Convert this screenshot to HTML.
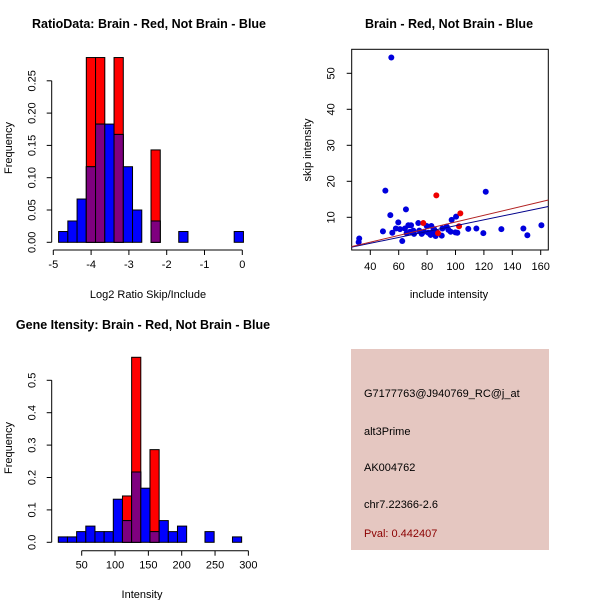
<!DOCTYPE html>
<html><head><meta charset="utf-8"><style>
body{margin:0;background:#fff}
svg{display:block;font-family:"Liberation Sans",Arial,sans-serif}
</style></head><body>
<svg id="c" width="600" height="600" viewBox="0 0 600 600" xmlns="http://www.w3.org/2000/svg">
<rect x="0" y="0" width="600" height="600" fill="#fff"/>
<text x="149" y="28" font-size="12.5" font-weight="bold" text-anchor="middle">RatioData: Brain - Red, Not Brain - Blue</text>
<text x="449" y="28" font-size="12.5" font-weight="bold" text-anchor="middle">Brain - Red, Not Brain - Blue</text>
<text x="143" y="329" font-size="12.5" font-weight="bold" text-anchor="middle">Gene Itensity: Brain - Red, Not Brain - Blue</text>
<g id="p1"></g>
<g id="p2"></g>
<g id="p3"></g>
<g>
<rect x="351" y="349" width="198" height="201" fill="#e5c7c1"/>
<text x="364" y="397" font-size="11">G7177763@J940769_RC@j_at</text>
<text x="364" y="435" font-size="11">alt3Prime</text>
<text x="364" y="471" font-size="11">AK004762</text>
<text x="364" y="508" font-size="11">chr7.22366-2.6</text>
<text x="364" y="537" font-size="11" fill="#8b0000">Pval: 0.442407</text>
</g>
</svg>
<script>
// ---- Ratio histogram data ----
const ratioStart = -4.86, ratioWidth = 0.2445;
const ratioBlue = [0.0167,0.033,0.067,0.117,0.183,0.183,0.167,0.117,0.05,0,0.033,0,0,0.0167,0,0,0,0,0,0.0167];
const ratioRed  = [0,0,0,0.286,0.286,0,0.286,0,0,0,0.143,0,0,0,0,0,0,0,0,0];
const ratioXTicks = [-5,-4,-3,-2,-1,0];
const ratioYTicks = [0,0.05,0.10,0.15,0.20,0.25];
const ratioYLabels = ["0.00","0.05","0.10","0.15","0.20","0.25"];
// ---- Intensity histogram data ----
const intStart = 14.9, intWidth = 13.75;
const intBlue = [0.0167,0.0167,0.033,0.05,0.033,0.033,0.133,0.067,0.217,0.167,0.033,0.067,0.033,0.05,0,0,0.033,0,0,0.0167];
const intRed  = [0,0,0,0,0,0,0,0.143,0.571,0,0.286,0,0,0,0,0,0,0,0,0];
const intXTicks = [50,100,150,200,250,300];
const intYTicks = [0,0.1,0.2,0.3,0.4,0.5];
const intYLabels = ["0.0","0.1","0.2","0.3","0.4","0.5"];
// ---- Scatter data ----
const blueX = [54.8,50.6,121.3,65.1,54.1,100.4,48.9,59.7,55.5,62.5,32.2,31.8,58,60.9,64.4,66.8,68.7,70.3,70.8,73.8,74.5,76.2,77.8,79.7,80.9,82.5,83,83.9,84.9,86,87.4,90.3,90.8,93.8,95,96.6,97.3,99.9,101.3,109,114.7,119.6,132.3,147.8,150.6,160.5,65.6,68];
const blueY = [54.4,17.4,17.1,12.2,10.6,10.2,6.1,8.6,5.7,3.4,4.1,3.1,6.9,6.7,6.9,7.8,7.8,6.3,5.4,8.4,6.3,5.4,6.0,7.6,5.7,5.1,7.6,6.0,6.7,4.8,5.7,4.9,6.9,7.4,6.5,6.0,9.3,5.8,5.7,6.8,6.9,5.6,6.7,6.9,5.0,7.8,5.6,6.0];
const redX = [86.5,103.4,102.5,77.3,87.7];
const redY = [16.1,11.1,7.5,8.4,5.6];
const fitIntercept = [-0.48,-0.65]; // blue, red
const fitSlope = [0.0815,0.0934];
const scXTicks = [40,60,80,100,120,140,160];
const scYTicks = [10,20,30,40,50];

const NS="http://www.w3.org/2000/svg";
function mk(parent,tag,attrs){const e=document.createElementNS(NS,tag);for(const k in attrs)e.setAttribute(k,attrs[k]);parent.appendChild(e);return e;}

function hist(g,o){
  const sx=v=>o.x0+(v-o.v0)*o.kx, sy=v=>o.y0-v*o.ky;
  for(let i=0;i<o.blue.length;i++){
    const a=o.start+i*o.w, b=a+o.w, r=o.red[i], bl=o.blue[i];
    const x=sx(a), wpx=sx(b)-sx(a);
    if(r>0){const e=mk(g,'rect',{x:x,y:sy(r),width:wpx,height:sy(0)-sy(r),fill:'#ff0000',stroke:'#000','stroke-width':1});
      
      }
    if(bl>0){const e=mk(g,'rect',{x:x,y:sy(bl),width:wpx,height:sy(0)-sy(bl),fill:'#0000ff',stroke:'#000','stroke-width':1});
      
      }
    const m=Math.min(r,bl);
    if(m>0){const e=mk(g,'rect',{x:x,y:sy(m),width:wpx,height:sy(0)-sy(m),fill:'#7f007f',stroke:'#000','stroke-width':1});
      
      }
  }
  const xa=mk(g,'line',{x1:sx(o.xt[0]),x2:sx(o.xt[o.xt.length-1]),y1:o.xaY,y2:o.xaY,stroke:'#000'});
  
  
  o.xt.forEach(t=>{mk(g,'line',{x1:sx(t),x2:sx(t),y1:o.xaY,y2:o.xaY+5,stroke:'#000'});
    const tx=mk(g,'text',{x:sx(t),y:o.xaY+18,'font-size':11,'text-anchor':'middle'});tx.textContent=t;
    
    });
  const ya=mk(g,'line',{x1:o.yaX,x2:o.yaX,y1:sy(o.yt[0]),y2:sy(o.yt[o.yt.length-1]),stroke:'#000'});
  
  
  o.yt.forEach((t,i)=>{mk(g,'line',{x1:o.yaX-5,x2:o.yaX,y1:sy(t),y2:sy(t),stroke:'#000'});
    const bx=o.yaX-16;
    const tx=mk(g,'text',{x:bx,y:sy(t),'font-size':11,'text-anchor':'middle',transform:`rotate(-90 ${bx} ${sy(t)})`});tx.textContent=o.yl[i];
    
    });
  const xl=mk(g,'text',{x:o.xlX,y:o.xlY,'font-size':11,'text-anchor':'middle'});xl.textContent=o.xlabel;
  
  
  const yl=mk(g,'text',{x:12,y:o.ylY,'font-size':11,'text-anchor':'middle',transform:`rotate(-90 12 ${o.ylY})`});yl.textContent='Frequency';
  
  
}
hist(document.getElementById('p1'),{blue:ratioBlue,red:ratioRed,start:ratioStart,w:ratioWidth,v0:-5,x0:53.3,kx:37.8,y0:242.3,ky:646,xt:ratioXTicks,yt:ratioYTicks,yl:ratioYLabels,xaY:250,yaX:51.7,xlabel:'Log2 Ratio Skip/Include',xlX:148,xlY:298,ylY:148});
hist(document.getElementById('p2'),{blue:intBlue,red:intRed,start:intStart,w:intWidth,v0:50,x0:81.7,kx:0.6667,y0:542.3,ky:324,xt:intXTicks,yt:intYTicks,yl:intYLabels,xaY:550.7,yaX:51.7,xlabel:'Intensity',xlX:142,xlY:598,ylY:448});

(function(){
  const g=document.getElementById('p3');
  const sx=v=>370.3+(v-40)*1.42, sy=v=>253.3-v*3.6;
  const L=351.7,R=548.3,T=49.3,B=250;
  const box=mk(g,'rect',{x:L,y:T,width:R-L,height:B-T,fill:'none',stroke:'#000'});
  
  
  const clip=mk(g,'clipPath',{id:'scclip'});mk(clip,'rect',{x:L,y:T,width:R-L,height:B-T});
  blueX.forEach((x,i)=>{const c=mk(g,'circle',{cx:sx(x),cy:sy(blueY[i]),r:3,fill:'#0000dd'});
    
    });
  redX.forEach((x,i)=>{const c=mk(g,'circle',{cx:sx(x),cy:sy(redY[i]),r:3,fill:'#ee0000'});
    
    });
  const cols=['#00008b','#b22222'], names=['blue-fit-line','red-fit-line'];
  [0,1].forEach(k=>{const xa=26.8,xb=165.4;
    const l=mk(g,'line',{x1:sx(xa),y1:sy(fitIntercept[k]+fitSlope[k]*xa),x2:sx(xb),y2:sy(fitIntercept[k]+fitSlope[k]*xb),stroke:cols[k],'stroke-width':1,'clip-path':'url(#scclip)'});
    
    });
  scXTicks.forEach(t=>{mk(g,'line',{x1:sx(t),x2:sx(t),y1:B,y2:B+5,stroke:'#000'});
    const tx=mk(g,'text',{x:sx(t),y:B+20,'font-size':11,'text-anchor':'middle'});tx.textContent=t;
    
    });
  scYTicks.forEach(t=>{mk(g,'line',{x1:L-5,x2:L,y1:sy(t),y2:sy(t),stroke:'#000'});
    const bx=L-17;
    const tx=mk(g,'text',{x:bx,y:sy(t),'font-size':11,'text-anchor':'middle',transform:`rotate(-90 ${bx} ${sy(t)})`});tx.textContent=t;
    
    });
  const xl=mk(g,'text',{x:449,y:298,'font-size':11,'text-anchor':'middle'});xl.textContent='include intensity';
  
  
  const yl=mk(g,'text',{x:311,y:150,'font-size':11,'text-anchor':'middle',transform:'rotate(-90 311 150)'});yl.textContent='skip intensity';
  
  
})();
</script>
</body></html>
